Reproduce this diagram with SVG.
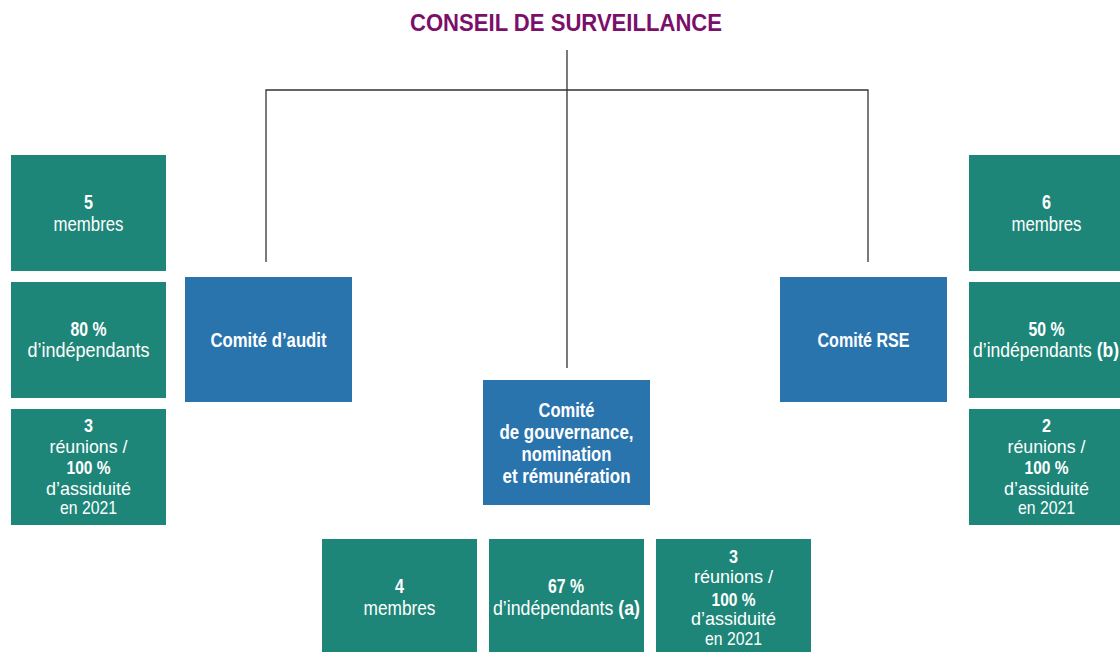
<svg xmlns="http://www.w3.org/2000/svg" width="1120" height="652" viewBox="0 0 1120 652">
<style>
text{font-family:"Liberation Sans",Arial,sans-serif;text-anchor:middle;fill:#ffffff;font-size:20px}
.b{font-weight:bold}
.s{font-size:19px}
.t{fill:#7b0f6a;font-size:24px;font-weight:bold}
.teal{fill:#1d8678}
.blue{fill:#2a74ae}
.line{stroke:#333333;stroke-width:1.3;fill:none}
</style>
<rect width="1120" height="652" fill="#ffffff"/>
<g id="conseil"><text class="t" x="566" y="31" textLength="312" lengthAdjust="spacingAndGlyphs">CONSEIL DE SURVEILLANCE</text></g>
<g id="connectors">
<path class="line" d="M567 50V368M266 262V90H868V262"/>
</g>
<g id="audit"><rect class="blue" x="185" y="277" width="167" height="125"/><text class="b" x="268.5" y="347" textLength="116" lengthAdjust="spacingAndGlyphs">Comité d’audit</text></g>
<g id="rse"><rect class="blue" x="780" y="277" width="167" height="125"/><text class="b" x="863.5" y="347" textLength="92" lengthAdjust="spacingAndGlyphs">Comité RSE</text></g>
<g id="gouvernance"><rect class="blue" x="483" y="380" width="167" height="125"/>
<text class="b" x="566.5" y="417" textLength="56" lengthAdjust="spacingAndGlyphs">Comité</text>
<text class="b" x="566.5" y="439" textLength="134" lengthAdjust="spacingAndGlyphs">de gouvernance,</text>
<text class="b" x="566.5" y="461" textLength="90" lengthAdjust="spacingAndGlyphs">nomination</text>
<text class="b" x="566.5" y="483" textLength="128" lengthAdjust="spacingAndGlyphs">et rémunération</text></g>
<g id="audit-membres"><rect class="teal" x="11" y="155" width="155" height="116"/><text class="b" x="88.5" y="209" textLength="9" lengthAdjust="spacingAndGlyphs">5</text><text x="88.5" y="231" textLength="70" lengthAdjust="spacingAndGlyphs">membres</text></g>
<g id="audit-indep"><rect class="teal" x="11" y="282" width="155" height="116"/><text class="b" x="88.5" y="336" textLength="36" lengthAdjust="spacingAndGlyphs">80 %</text><text x="88.5" y="357" textLength="122" lengthAdjust="spacingAndGlyphs">d’indépendants</text></g>
<g id="audit-reunions"><rect class="teal" x="11" y="409" width="155" height="116"/>
<text class="b s" x="88.5" y="432" textLength="9" lengthAdjust="spacingAndGlyphs">3</text>
<text class="s" x="88.5" y="453" textLength="78" lengthAdjust="spacingAndGlyphs">réunions /</text>
<text class="b s" x="88.5" y="474" textLength="44" lengthAdjust="spacingAndGlyphs">100 %</text>
<text class="s" x="88.5" y="495" textLength="85" lengthAdjust="spacingAndGlyphs">d’assiduité</text>
<text class="s" x="88.5" y="514" textLength="57" lengthAdjust="spacingAndGlyphs">en 2021</text></g>
<g id="rse-membres"><rect class="teal" x="969" y="155" width="155" height="116"/><text class="b" x="1046.5" y="209" textLength="9" lengthAdjust="spacingAndGlyphs">6</text><text x="1046.5" y="231" textLength="70" lengthAdjust="spacingAndGlyphs">membres</text></g>
<g id="rse-indep"><rect class="teal" x="969" y="282" width="155" height="116"/><text class="b" x="1046.5" y="336" textLength="36" lengthAdjust="spacingAndGlyphs">50 %</text><text x="1046" y="357" textLength="146" lengthAdjust="spacingAndGlyphs">d’indépendants <tspan class="b">(b)</tspan></text></g>
<g id="rse-reunions"><rect class="teal" x="969" y="409" width="155" height="116"/>
<text class="b s" x="1046.5" y="432" textLength="9" lengthAdjust="spacingAndGlyphs">2</text>
<text class="s" x="1046.5" y="453" textLength="78" lengthAdjust="spacingAndGlyphs">réunions /</text>
<text class="b s" x="1046.5" y="474" textLength="44" lengthAdjust="spacingAndGlyphs">100 %</text>
<text class="s" x="1046.5" y="495" textLength="85" lengthAdjust="spacingAndGlyphs">d’assiduité</text>
<text class="s" x="1046.5" y="514" textLength="57" lengthAdjust="spacingAndGlyphs">en 2021</text></g>
<g id="gouv-membres"><rect class="teal" x="322" y="539" width="155" height="116"/><text class="b" x="399.5" y="593" textLength="9" lengthAdjust="spacingAndGlyphs">4</text><text x="399.5" y="615" textLength="72" lengthAdjust="spacingAndGlyphs">membres</text></g>
<g id="gouv-indep"><rect class="teal" x="489" y="539" width="155" height="116"/><text class="b" x="566" y="593" textLength="36" lengthAdjust="spacingAndGlyphs">67 %</text><text x="566.5" y="615" textLength="147" lengthAdjust="spacingAndGlyphs">d’indépendants <tspan class="b">(a)</tspan></text></g>
<g id="gouv-reunions"><rect class="teal" x="656" y="539" width="155" height="116"/>
<text class="b s" x="733.5" y="563" textLength="9" lengthAdjust="spacingAndGlyphs">3</text>
<text class="s" x="733.5" y="583" textLength="79" lengthAdjust="spacingAndGlyphs">réunions /</text>
<text class="b s" x="733.5" y="606" textLength="44" lengthAdjust="spacingAndGlyphs">100 %</text>
<text class="s" x="733.5" y="625" textLength="85" lengthAdjust="spacingAndGlyphs">d’assiduité</text>
<text class="s" x="733.5" y="645" textLength="57" lengthAdjust="spacingAndGlyphs">en 2021</text></g>
</svg>
